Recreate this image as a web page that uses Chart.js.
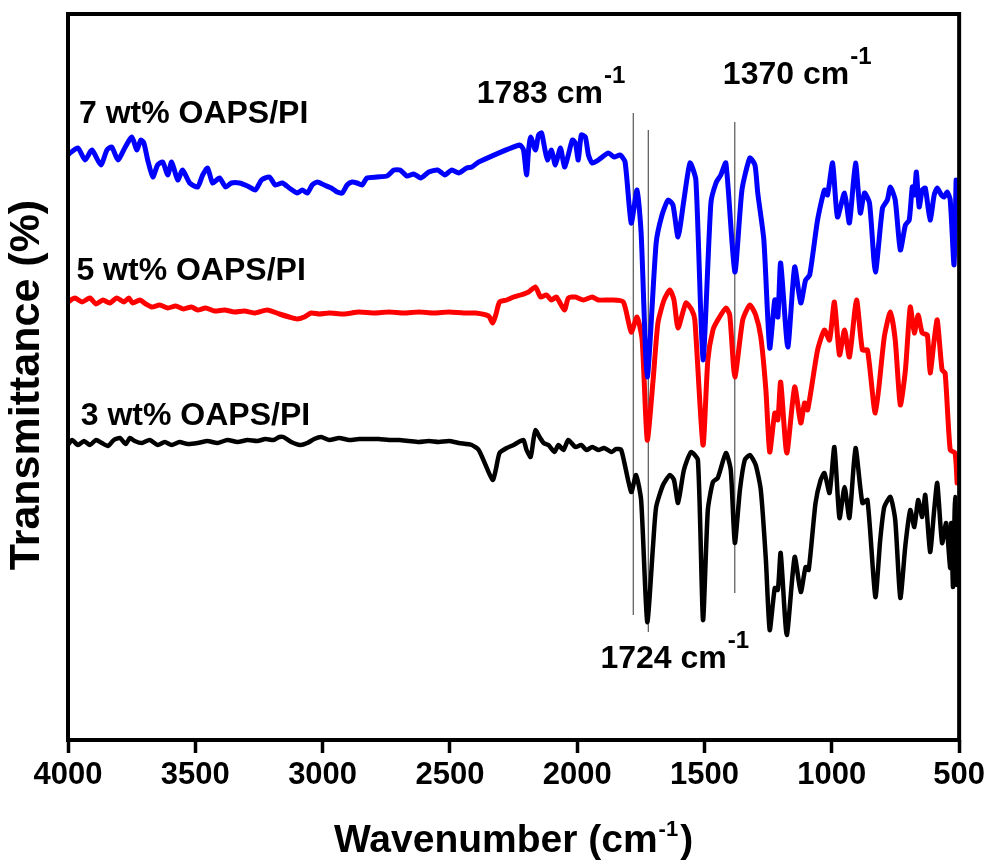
<!DOCTYPE html>
<html>
<head>
<meta charset="utf-8">
<script src="https://cdn.jsdelivr.net/npm/chart.js@4.4.1/dist/chart.umd.min.js"></script>
<style>
  body { margin: 0; background: #fff; }
</style>
</head>
<body>
<canvas id="ftir" width="989" height="864"></canvas>
<script>
// FTIR spectra, [wavenumber (cm-1), transmittance (a.u., offset)]
const oaps7 = [[4000,585],[3992,587],[3961,592],[3933,580],[3906,590],[3871,575],[3847,590],[3828,593],[3804,580],[3777,592],[3749,603],[3730,590],[3714,600],[3702,597],[3687,580],[3667,563],[3648,575],[3628,578],[3608,565],[3593,578],[3569,560],[3550,570],[3522,557],[3491,553],[3471,565],[3452,572],[3432,557],[3405,562],[3381,553],[3358,557],[3327,557],[3295,554],[3264,550],[3240,560],[3209,563],[3186,555],[3158,557],[3131,552],[3100,547],[3080,550],[3060,547],[3041,555],[3021,558],[2994,555],[2966,552],[2943,548],[2923,547],[2904,555],[2884,558],[2865,557],[2845,555],[2826,562],[2786,563],[2747,564],[2720,570],[2696,570],[2669,564],[2642,566],[2614,562],[2583,568],[2548,570],[2520,565],[2493,570],[2465,567],[2434,572],[2414,573],[2387,578],[2226,595],[2211,590],[2199,565],[2191,590],[2183,603],[2164,590],[2152,605],[2140,607],[2128,592],[2117,580],[2101,590],[2086,575],[2066,592],[2050,573],[2035,585],[2019,600],[2007,597],[1996,580],[1984,605],[1968,603],[1956,585],[1941,577],[1917,580],[1878,587],[1855,583],[1831,585],[1812,578],[1788,517],[1765,550],[1749,507],[1725,363],[1690,497],[1667,525],[1643,540],[1624,535],[1604,503],[1581,540],[1557,577],[1534,560],[1506,380],[1475,537],[1455,557],[1436,565],[1416,577],[1381,468],[1353,550],[1322,582],[1302,575],[1291,547],[1267,500],[1244,392],[1224,440],[1212,423],[1201,477],[1173,393],[1146,473],[1122,437],[1103,460],[1087,465],[1056,520],[1029,550],[1017,545],[997,577],[978,523],[950,547],[931,517],[907,577],[888,527],[872,547],[852,537],[829,468],[801,532],[782,540],[770,553],[751,540],[731,490],[711,515],[696,520],[684,553],[676,545],[668,568],[657,533],[645,550],[633,552],[614,520],[598,545],[586,552],[570,545],[559,543],[547,548],[535,540],[520,475],[512,560]];

const oaps5 = [[4000,438],[3973,442],[3945,438],[3914,442],[3890,436],[3863,440],[3836,437],[3808,442],[3781,438],[3761,442],[3746,437],[3718,440],[3695,436],[3671,433],[3640,435],[3608,432],[3577,434],[3546,431],[3515,433],[3491,430],[3460,432],[3424,429],[3385,430],[3346,428],[3307,429],[3268,427],[3217,430],[3170,426],[3131,423],[3100,421],[3072,423],[3045,427],[3013,426],[2974,427],[2916,426],[2857,428],[2798,427],[2739,428],[2681,427],[2622,428],[2563,427],[2504,428],[2446,427],[2399,427],[2348,424],[2332,417],[2320,425],[2305,438],[2277,440],[2250,443],[2222,445],[2191,448],[2164,453],[2144,443],[2121,445],[2101,440],[2082,443],[2050,430],[2035,442],[2007,443],[1976,440],[1941,443],[1917,440],[1866,440],[1819,438],[1788,408],[1765,423],[1745,400],[1725,300],[1702,360],[1683,417],[1659,440],[1636,450],[1620,440],[1604,412],[1573,437],[1550,430],[1538,420],[1506,295],[1487,380],[1467,410],[1448,420],[1416,432],[1401,425],[1381,363],[1350,420],[1322,435],[1299,425],[1279,403],[1259,350],[1244,288],[1224,327],[1212,320],[1201,358],[1177,287],[1146,353],[1122,317],[1107,337],[1095,330],[1056,390],[1029,410],[1009,400],[990,438],[970,385],[950,410],[931,383],[903,440],[880,390],[860,390],[829,327],[794,403],[770,428],[751,400],[731,335],[711,370],[692,433],[676,407],[661,425],[645,407],[625,405],[614,367],[598,400],[586,420],[567,370],[555,367],[535,290],[516,287],[508,257]];

const oaps3 = [[4000,295],[3984,300],[3961,295],[3937,299],[3914,295],[3890,300],[3867,297],[3843,294],[3820,300],[3796,302],[3773,296],[3757,302],[3738,299],[3710,297],[3679,300],[3648,295],[3620,298],[3593,295],[3562,298],[3530,296],[3491,297],[3452,299],[3413,297],[3374,300],[3334,298],[3295,300],[3256,299],[3225,301],[3193,300],[3170,303],[3154,303],[3123,298],[3088,295],[3060,297],[3033,301],[3006,303],[2974,300],[2935,302],[2896,300],[2857,301],[2818,301],[2779,301],[2739,300],[2700,300],[2661,299],[2622,298],[2583,299],[2544,298],[2504,299],[2465,297],[2414,295],[2387,290],[2360,275],[2332,260],[2320,270],[2305,287],[2277,292],[2250,295],[2230,298],[2211,300],[2199,290],[2183,283],[2172,300],[2164,310],[2148,303],[2132,297],[2113,295],[2089,288],[2074,295],[2054,290],[2035,300],[2007,293],[1984,295],[1964,290],[1941,293],[1917,290],[1894,292],[1866,288],[1847,291],[1827,290],[1788,248],[1769,265],[1749,240],[1725,118],[1702,195],[1690,233],[1663,255],[1636,265],[1620,260],[1604,237],[1581,270],[1553,288],[1526,280],[1506,120],[1487,230],[1467,258],[1448,262],[1416,287],[1397,270],[1381,197],[1361,250],[1342,280],[1322,285],[1299,275],[1279,250],[1259,180],[1244,110],[1224,152],[1212,150],[1201,187],[1177,105],[1146,183],[1122,148],[1103,173],[1091,170],[1064,237],[1044,260],[1029,267],[1009,247],[990,293],[970,222],[950,253],[931,222],[907,292],[880,237],[860,240],[829,143],[810,200],[794,233],[770,243],[751,220],[731,142],[711,195],[692,230],[676,213],[661,240],[645,223],[633,245],[614,188],[598,230],[586,257],[567,197],[551,217],[535,172],[531,217],[524,153],[516,243],[508,155]];

const seriesNames = ['7 wt% OAPS/PI', '5 wt% OAPS/PI', '3 wt% OAPS/PI'];
const seriesColors = ['#0000ff', '#ff0000', '#000000'];
const xTicks = [4000, 3500, 3000, 2500, 2000, 1500, 1000, 500];

// thin guide lines: wavenumber, lower and upper end
const guideLines = [[1780, 125, 627], [1721, 108, 610], [1381, 147, 618]];

// text placed at [wavenumber, transmittance] of its left baseline
const labels = [
  { text: '7 wt% OAPS/PI', at: [3957, 617] },
  { text: '5 wt% OAPS/PI', at: [3967, 460] },
  { text: '3 wt% OAPS/PI', at: [3950, 315] },
  { text: '1783 cm', sup: '-1', at: [2395, 637] },
  { text: '1370 cm', sup: '-1', at: [1428, 656] },
  { text: '1724 cm', sup: '-1', at: [1909, 72] }
];

const FONT = "'Liberation Sans', Arial, sans-serif";
const toXY = arr => arr.map(p => ({ x: p[0], y: p[1] }));

const datasets = [oaps7, oaps5, oaps3].map((s, i) => ({
  label: seriesNames[i],
  data: toXY(s),
  borderColor: seriesColors[i],
  borderWidth: i === 2 ? 4.5 : 5,
  pointRadius: 0,
  tension: 0.2,
  borderJoinStyle: 'round',
  borderCapStyle: 'round'
}));

guideLines.forEach(g => {
  datasets.push({
    data: [{ x: g[0], y: g[1] }, { x: g[0], y: g[2] }],
    borderColor: '#333',
    borderWidth: 1,
    pointRadius: 0
  });
});

function drawSup(ctx, text, sup, x, y, size, supSize) {
  ctx.font = 'bold ' + size + 'px ' + FONT;
  ctx.fillText(text, x, y);
  let w = ctx.measureText(text).width;
  if (sup) {
    ctx.font = 'bold ' + supSize + 'px ' + FONT;
    ctx.fillText(sup, x + w + 1, y - size * 0.64);
    w += 1 + ctx.measureText(sup).width;
  }
  return w;
}

const framePlugin = {
  id: 'frame',
  afterDraw(chart) {
    const { ctx, chartArea: a, scales } = chart;
    ctx.save();
    ctx.strokeStyle = '#000';
    ctx.lineWidth = 4;
    ctx.strokeRect(a.left, a.top, a.right - a.left, a.bottom - a.top);

    ctx.fillStyle = '#000';
    ctx.textAlign = 'left';
    ctx.textBaseline = 'alphabetic';
    labels.forEach(l => {
      const x = scales.x.getPixelForValue(l.at[0]);
      const y = scales.y.getPixelForValue(l.at[1]);
      drawSup(ctx, l.text, l.sup, x, y, 32, 24);
    });

    // x axis title with superscript
    ctx.font = 'bold 39px ' + FONT;
    const w1 = ctx.measureText('Wavenumber (cm').width;
    ctx.font = 'bold 22px ' + FONT;
    const w2 = ctx.measureText('-1').width;
    ctx.font = 'bold 39px ' + FONT;
    const w3 = ctx.measureText(')').width;
    const cx = (a.left + a.right) / 2;
    const x0 = cx - (w1 + w2 + w3 + 3) / 2;
    ctx.fillText('Wavenumber (cm', x0, 852);
    ctx.font = 'bold 22px ' + FONT;
    ctx.fillText('-1', x0 + w1 + 1, 836);
    ctx.font = 'bold 39px ' + FONT;
    ctx.fillText(')', x0 + w1 + w2 + 3, 852);

    // y axis title
    ctx.translate(27, 385);
    ctx.rotate(-Math.PI / 2);
    ctx.textAlign = 'center';
    ctx.textBaseline = 'middle';
    ctx.font = 'bold 43px ' + FONT;
    ctx.fillText('Transmittance (%)', 0, 0);
    ctx.restore();
  }
};

const ctx = document.getElementById('ftir');
const chart = new Chart(ctx, {
  type: 'line',
  data: { datasets: datasets },
  options: {
    responsive: false,
    animation: false,
    layout: { padding: { top: 14, right: 27, left: 0, bottom: 0 } },
    plugins: {
      legend: { display: false },
      tooltip: { enabled: false }
    },
    scales: {
      x: {
        type: 'linear',
        reverse: true,
        min: 500,
        max: 4000,
        afterBuildTicks: s => { s.ticks = xTicks.map(v => ({ value: v })); },
        ticks: {
          color: '#000',
          font: { family: FONT, size: 31, weight: 'bold' },
          padding: 4,
          maxRotation: 0,
          autoSkip: false,
          callback: v => String(v)
        },
        grid: {
          drawOnChartArea: false,
          drawTicks: true,
          tickLength: 13,
          tickWidth: 3.5,
          tickColor: '#000'
        },
        border: { display: false },
        afterFit: s => { s.height = 124; }
      },
      y: {
        min: 0,
        max: 726,
        ticks: { display: false },
        grid: { display: false },
        border: { display: false },
        afterFit: s => { s.width = 68; }
      }
    }
  },
  plugins: [framePlugin]
});
</script>
</body>
</html>
